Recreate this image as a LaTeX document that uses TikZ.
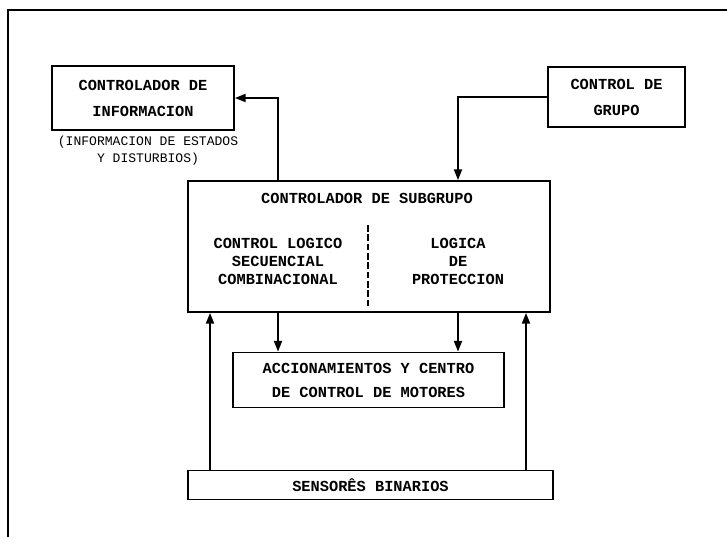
\documentclass[tikz,border=0pt]{standalone}
\usepackage{fontspec}
\setmonofont{Liberation Mono}
\usetikzlibrary{arrows.meta}
\tikzset{
  box/.style={draw, line width=1.4pt, rectangle, inner sep=0pt},
  txt/.style={font=\ttfamily\bfseries\fontsize{11.5}{19.5}\selectfont, align=center, inner sep=0pt},
  small/.style={font=\ttfamily\fontsize{9.8}{12.75}\selectfont, align=center, inner sep=0pt},
  arr/.style={line width=1.4pt, -{Triangle[length=8pt,width=6pt]}},
  frame/.style={line width=1.3pt}
}
\begin{document}
\begin{tikzpicture}[x=0.75pt,y=-0.75pt]
\useasboundingbox (0,0) rectangle (727,537);
% frame
\coordinate (ftl) at (8,10);
\coordinate (fbl) at (8,537);
\coordinate (ftr) at (727,10);
\draw[frame] (fbl) -- (ftl) -- (ftr);
% top boxes
\node[box, minimum width=182*0.75pt, minimum height=64*0.75pt] (info) at (143,98) {};
\node[txt] (infot) at (info.center) {CONTROLADOR DE\\INFORMACION};
\node[small] (paren) at (148,151) {(INFORMACION DE ESTADOS\\Y DISTURBIOS)};
\node[box, minimum width=137*0.75pt, minimum height=60*0.75pt] (grupo) at (616.5,97) {};
\node[txt, font=\ttfamily\bfseries\fontsize{11.5}{19.5}\selectfont] (grupot) at (grupo.center) {CONTROL DE\\GRUPO};
% subgroup
\node[box, minimum width=362*0.75pt, minimum height=131*0.75pt] (sub) at (369,246.5) {};
\node[txt] (subt) at (367,198) {CONTROLADOR DE SUBGRUPO};
\node[txt, font=\ttfamily\bfseries\fontsize{11.5}{13.5}\selectfont] (lt) at (278,261) {CONTROL LOGICO\\SECUENCIAL\\COMBINACIONAL};
\node[txt, font=\ttfamily\bfseries\fontsize{11.5}{13.5}\selectfont] (rt) at (458,261) {LOGICA\\DE\\PROTECCION};
\coordinate (dtop) at (368,225);
\coordinate (dbot) at (368,308);
\draw[line width=1.4pt, dash pattern=on 5pt off 2pt] (dtop) -- (dbot);
% lower boxes
\node[box, minimum width=271*0.75pt, minimum height=55*0.75pt] (acc) at (368.5,380) {};
\node[txt, font=\ttfamily\bfseries\fontsize{11.5}{18}\selectfont] (acct) at (acc.center) {ACCIONAMIENTOS Y CENTRO\\DE CONTROL DE MOTORES};
\node[box, minimum width=365*0.75pt, minimum height=29*0.75pt] (sens) at (370.5,485) {};
\node[txt] (senst) at (sens.center) {SENSORÊS BINARIOS};
% connectors
\draw[arr] (sub.north -| lt) |- (info.east);
\draw[arr] (grupo.west) -| (sub.north -| rt);
\draw[arr] (sub.south -| lt) -- (acc.north -| lt);
\draw[arr] (sub.south -| rt) -- (acc.north -| rt);
\coordinate (ul) at (210,0);
\coordinate (ur) at (526,0);
\draw[arr] (sens.north -| ul) -- (sub.south -| ul);
\draw[arr] (sens.north -| ur) -- (sub.south -| ur);
\end{tikzpicture}
\end{document}
